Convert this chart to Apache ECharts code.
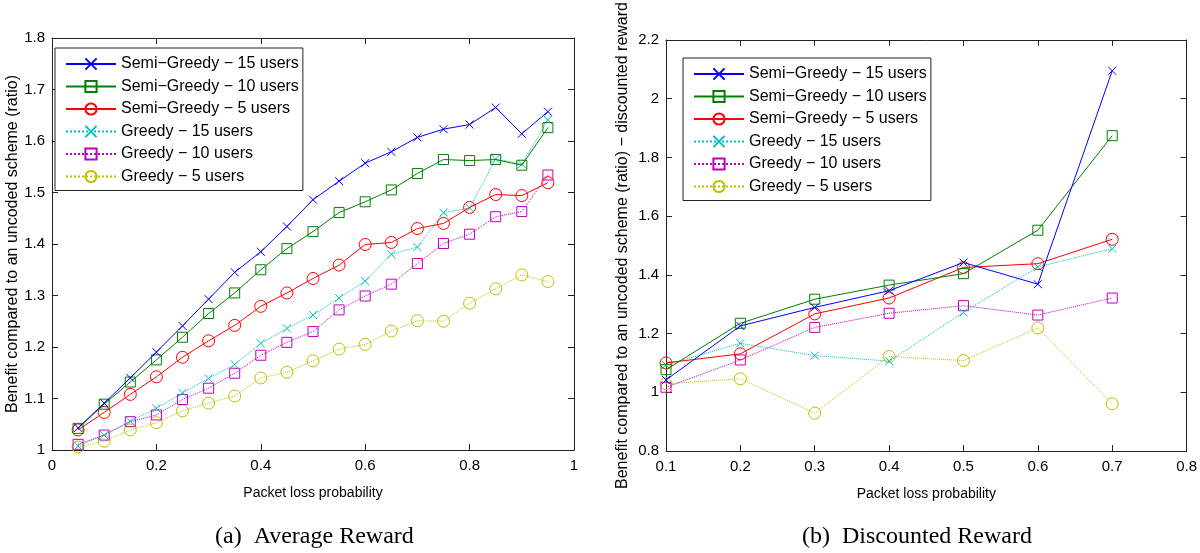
<!DOCTYPE html>
<html>
<head>
<meta charset="utf-8">
<script src="https://cdn.jsdelivr.net/npm/echarts@6/dist/echarts.min.js"></script>
<style>
html, body { margin: 0; padding: 0; background: #fff; }
#main { width: 1200px; height: 553px; }
</style>
</head>
<body>
<div id="main"></div>
<script>
// left panel: average reward
var lossA = [0.05, 0.1, 0.15, 0.2, 0.25, 0.3, 0.35, 0.4, 0.45, 0.5, 0.55, 0.6, 0.65, 0.7, 0.75, 0.8, 0.85, 0.9, 0.95];
var semi15A = [1.043, 1.091, 1.140, 1.190, 1.241, 1.293, 1.345, 1.385, 1.434, 1.486, 1.522, 1.557, 1.579, 1.607, 1.623, 1.632, 1.665, 1.614, 1.657];
var semi10A = [1.042, 1.089, 1.132, 1.175, 1.219, 1.265, 1.305, 1.350, 1.391, 1.424, 1.461, 1.482, 1.505, 1.537, 1.564, 1.562, 1.564, 1.553, 1.626];
var semi5A = [1.039, 1.073, 1.108, 1.142, 1.180, 1.212, 1.242, 1.279, 1.305, 1.333, 1.359, 1.399, 1.403, 1.430, 1.440, 1.471, 1.496, 1.494, 1.519];
var greedy15A = [1.008, 1.029, 1.056, 1.081, 1.111, 1.139, 1.166, 1.207, 1.236, 1.262, 1.295, 1.328, 1.380, 1.394, 1.461, 1.470, 1.565, 1.555, 1.641];
var greedy10A = [1.011, 1.029, 1.055, 1.068, 1.098, 1.120, 1.149, 1.184, 1.209, 1.230, 1.272, 1.299, 1.322, 1.362, 1.401, 1.419, 1.453, 1.463, 1.534];
var greedy5A = [1.006, 1.017, 1.039, 1.053, 1.076, 1.091, 1.105, 1.140, 1.151, 1.173, 1.196, 1.205, 1.231, 1.251, 1.250, 1.285, 1.313, 1.340, 1.327];

// right panel: discounted reward
var lossB = [0.1, 0.2, 0.3, 0.4, 0.5, 0.6, 0.7];
var semi15B = [1.042, 1.226, 1.289, 1.346, 1.442, 1.368, 2.095];
var semi10B = [1.077, 1.235, 1.317, 1.365, 1.404, 1.552, 1.874];
var semi5B = [1.100, 1.131, 1.267, 1.321, 1.425, 1.438, 1.521];
var greedy15B = [1.093, 1.167, 1.125, 1.106, 1.272, 1.427, 1.489];
var greedy10B = [1.017, 1.110, 1.221, 1.269, 1.295, 1.263, 1.321];
var greedy5B = [1.029, 1.046, 0.929, 1.122, 1.108, 1.219, 0.961];

var names = ['Semi\u2212Greedy \u2212 15 users', 'Semi\u2212Greedy \u2212 10 users', 'Semi\u2212Greedy \u2212 5 users',
             'Greedy \u2212 15 users', 'Greedy \u2212 10 users', 'Greedy \u2212 5 users'];
var colors = ['#0000ff', '#008000', '#ff0000', '#00bfbf', '#bf00bf', '#bfbf00'];
var crossPath = 'path://M0,0L10,10M10,0L0,10';
var symbols = [crossPath, 'rect', 'circle', crossPath, 'rect', 'circle'];
var sizes = [8, 10, 12, 8, 10, 12];
var styles = ['solid', 'solid', 'solid', 'dotted', 'dotted', 'dotted'];

var FONT = 'Liberation Sans, Arial, sans-serif';

function pairs(xs, ys) {
    return xs.map(function (x, i) { return [x, ys[i]]; });
}
function fmt(v) { return String(+v.toFixed(2)); }

function makeSeries(idx, xs, ys, axisIdx) {
    return {
        name: names[idx],
        type: 'line',
        xAxisIndex: axisIdx,
        yAxisIndex: axisIdx,
        data: pairs(xs, ys),
        symbol: symbols[idx],
        symbolSize: sizes[idx],
        showAllSymbol: true,
        animation: false,
        color: colors[idx],
        lineStyle: { color: colors[idx], width: 1, type: styles[idx] },
        itemStyle: { color: 'rgba(255,255,255,0)', borderColor: colors[idx], borderWidth: 1 },
        emphasis: { disabled: true },
        z: 10 - idx
    };
}

function axisX(grid, min, max, interval, pos, show) {
    return {
        type: 'value', gridIndex: grid, position: pos, min: min, max: max, interval: interval,
        name: show ? 'Packet loss probability' : '', nameLocation: 'middle', nameGap: 36,
        nameTextStyle: { fontFamily: FONT, fontSize: 14, color: '#000' },
        axisLine: { show: true, onZero: false, lineStyle: { color: '#222', width: 1 } },
        axisTick: { show: true, inside: true, length: 6, lineStyle: { color: '#222' } },
        axisLabel: { show: show, formatter: fmt, margin: 8, fontFamily: FONT, fontSize: 15, color: '#000' },
        splitLine: { show: false }
    };
}
function axisY(grid, min, max, interval, pos, show, name, gap) {
    return {
        type: 'value', gridIndex: grid, position: pos, min: min, max: max, interval: interval,
        name: show ? name : '', nameLocation: 'middle', nameGap: gap || 34, nameRotate: 90,
        nameTextStyle: { fontFamily: FONT, fontSize: 16, color: '#000' },
        axisLine: { show: true, onZero: false, lineStyle: { color: '#222', width: 1 } },
        axisTick: { show: true, inside: true, length: 6, lineStyle: { color: '#222' } },
        axisLabel: { show: show, formatter: fmt, margin: 7, fontFamily: FONT, fontSize: 15, color: '#000' },
        splitLine: { show: false }
    };
}

function legendAt(left, top) {
    return {
        data: names, left: left, top: top, orient: 'vertical',
        itemWidth: 50, itemHeight: 14, itemGap: 6.5,
        padding: [8, 4, 6, 10],
        backgroundColor: '#fff', borderColor: '#222', borderWidth: 1,
        textStyle: { fontFamily: FONT, fontSize: 16, color: '#000' },
        selectedMode: false
    };
}

var seriesList = [];
[semi15A, semi10A, semi5A, greedy15A, greedy10A, greedy5A].forEach(function (ys, i) {
    seriesList.push(makeSeries(i, lossA, ys, 0));
});
[semi15B, semi10B, semi5B, greedy15B, greedy10B, greedy5B].forEach(function (ys, i) {
    seriesList.push(makeSeries(i, lossB, ys, 2));
});

var chartDom = document.getElementById('main');
var chart = echarts.init(chartDom, null, { renderer: 'canvas' });
var option = {
    backgroundColor: '#fff',
    animation: false,
    grid: [
        { left: 52, right: 626, top: 38, bottom: 103 },
        { left: 666, right: 12, top: 38, bottom: 102 }
    ],
    xAxis: [
        axisX(0, 0, 1, 0.2, 'bottom', true),
        axisX(0, 0, 1, 0.2, 'top', false),
        axisX(1, 0.1, 0.8, 0.1, 'bottom', true),
        axisX(1, 0.1, 0.8, 0.1, 'top', false)
    ],
    yAxis: [
        axisY(0, 1, 1.8, 0.1, 'left', true, 'Benefit compared to an uncoded scheme (ratio)', 30),
        axisY(0, 1, 1.8, 0.1, 'right', false, ''),
        axisY(1, 0.8, 2.2, 0.2, 'left', true, 'Benefit compared to an uncoded scheme (ratio) \u2212 discounted reward', 35),
        axisY(1, 0.8, 2.2, 0.2, 'right', false, '')
    ],
    legend: [legendAt(55, 48), legendAt(683, 58)],
    graphic: [
        { type: 'text', left: 215, top: 525, style: { text: '(a)  Average Reward', font: '24px "Liberation Serif", "Times New Roman", serif', fill: '#000' } },
        { type: 'text', left: 802, top: 525, style: { text: '(b)  Discounted Reward', font: '24px "Liberation Serif", "Times New Roman", serif', fill: '#000' } }
    ],
    series: seriesList
};
chart.setOption(option);
window.addEventListener('resize', () => chart.resize());
</script>
</body>
</html>
